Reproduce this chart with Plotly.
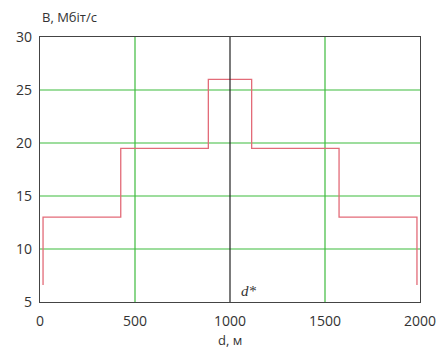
import plotly.graph_objects as go

# Step profile of bitrate B (Mbit/s) versus distance d (m)
d_m = [16, 16, 425, 425, 886, 886, 1114, 1114, 1574, 1574, 1984, 1984]
b_mbps = [6.6, 13, 13, 19.5, 19.5, 26, 26, 19.5, 19.5, 13, 13, 6.6]

d_star = 1000
x_ticks = [0, 500, 1000, 1500, 2000]
y_ticks = [5, 10, 15, 20, 25, 30]
x_grid = [500, 1500]
y_grid = [10, 15, 20, 25]

FONT = "Open Sans, Noto Sans, sans-serif"
GREEN = "#3dbb3d"

fig = go.Figure()

fig.add_trace(go.Scatter(x=d_m, y=b_mbps, mode="lines",
                         line=dict(color="#e36b78", width=1.3),
                         hoverinfo="skip", showlegend=False))

for gx in x_grid:
    fig.add_shape(type="line", x0=gx, x1=gx, y0=y_ticks[0], y1=y_ticks[-1],
                  xref="x", yref="y", line=dict(color=GREEN, width=1.2), layer="below")
for gy in y_grid:
    fig.add_shape(type="line", x0=x_ticks[0], x1=x_ticks[-1], y0=gy, y1=gy,
                  xref="x", yref="y", line=dict(color=GREEN, width=1.2), layer="below")

fig.add_shape(type="line", x0=d_star, x1=d_star, y0=y_ticks[0], y1=y_ticks[-1],
              xref="x", yref="y", line=dict(color="#222222", width=1.2))

fig.add_annotation(x=d_star + 100, y=6.0, text="<i>d*</i>", showarrow=False,
                   font=dict(family="Liberation Serif, serif", size=15, color="#333333"))

fig.add_annotation(xref="paper", yref="paper", x=0.0, y=1.0, yshift=20, xanchor="left",
                   yanchor="middle", text="B, Мбіт/с", showarrow=False,
                   font=dict(family=FONT, size=13, color="#333333"))

fig.add_annotation(xref="paper", yref="paper", x=0.5, y=0.0, yshift=-38, xanchor="center",
                   yanchor="middle", text="d, м", showarrow=False,
                   font=dict(family=FONT, size=13, color="#333333"))

fig.update_layout(
    width=446, height=348,
    margin=dict(l=32, r=34, t=29, b=54),
    paper_bgcolor="white", plot_bgcolor="white",
    font=dict(family=FONT, size=14, color="#333333"),
    xaxis=dict(range=[x_ticks[0], x_ticks[-1]], tickvals=x_ticks, automargin=False,
               showgrid=False, zeroline=False, showline=True, mirror=True,
               linecolor="#444444", linewidth=1.2, ticks="", ticklen=0,
               ticklabelstandoff=6),
    yaxis=dict(range=[y_ticks[0], y_ticks[-1]], tickvals=y_ticks, automargin=False,
               showgrid=False, zeroline=False, showline=True, mirror=True,
               linecolor="#444444", linewidth=1.2, ticks="", ticklen=0,
               ticklabelstandoff=4),
)

fig.write_html("out.html")
